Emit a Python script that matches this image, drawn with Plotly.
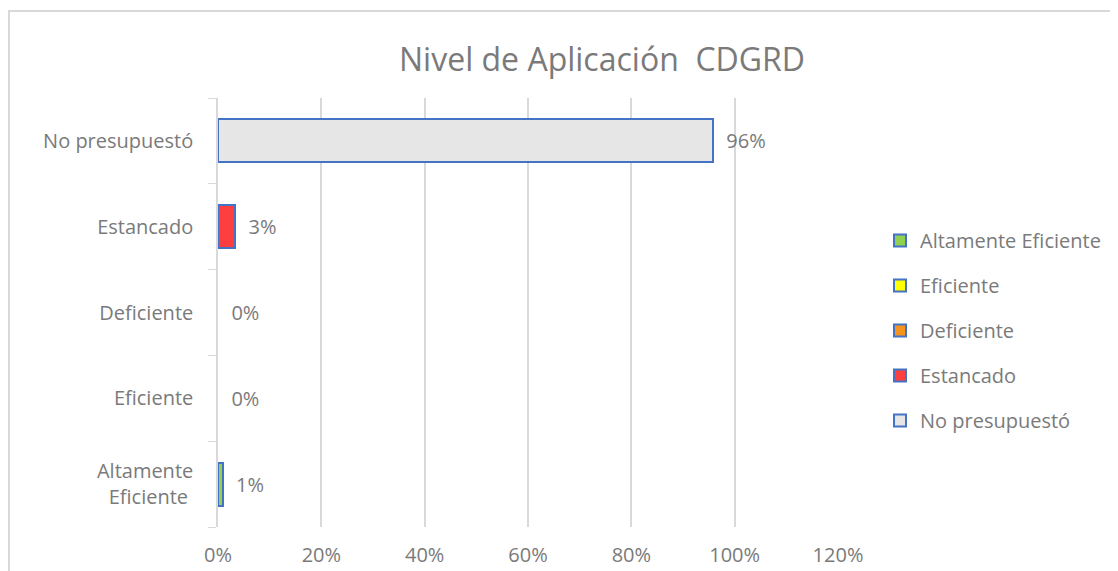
import plotly.graph_objects as go

categorias = ["Altamente Eficiente", "Eficiente", "Deficiente", "Estancado", "No presupuestó"]
etiquetas = ["Altamente<br>Eficiente\u00a0", "Eficiente", "Deficiente", "Estancado", "No presupuestó"]
series = ["Altamente Eficiente", "Eficiente", "Deficiente", "Estancado", "No presupuestó"]
valores = [0.009, 0.0, 0.0, 0.033, 0.958]
colores = ["#92D050", "#FFFF00", "#F7941D", "#FF3F3F", "#E7E6E6"]
ticks_x = [0, 0.2, 0.4, 0.6, 0.8, 1.0, 1.2]

GRIS = "#7A7A7A"
AZUL = "#4472C4"
FUENTE = "'Open Sans', Lato, sans-serif"

fig = go.Figure()
for i, nombre in enumerate(series):
    # barras reales (las de valor 0 sin borde)
    fig.add_trace(
        go.Bar(
            name=nombre,
            orientation="h",
            y=[categorias[i]],
            x=[valores[i]],
            text=["\u00a0\u00a0" + f"{valores[i]:.0%}"],
            textposition="outside",
            textfont=dict(size=20, color=GRIS, family=FUENTE),
            cliponaxis=False,
            marker=dict(color=colores[i], line=dict(color=AZUL, width=2 if valores[i] > 0 else 0)),
            showlegend=False,
            legendgroup=nombre,
        )
    )
    # solo para la leyenda
    fig.add_trace(
        go.Bar(
            name=nombre,
            orientation="h",
            y=[None],
            x=[None],
            marker=dict(color=colores[i], line=dict(color=AZUL, width=2)),
            legendgroup=nombre,
            hoverinfo="skip",
        )
    )

# la página tiene 8px de margen, por eso los márgenes van corridos
fig.update_layout(
    width=1118,
    height=571,
    barmode="stack",
    bargap=0.5,
    paper_bgcolor="white",
    plot_bgcolor="white",
    font=dict(family=FUENTE, color=GRIS, size=20),
    margin=dict(l=210, r=288, t=90, b=52),
    title=dict(
        text="Nivel de Aplicación  CDGRD",
        x=(602 - 8) / 1118,
        xanchor="center",
        y=1 - 52 / 571,
        yanchor="middle",
        font=dict(size=32, color=GRIS, family=FUENTE),
    ),
    legend=dict(
        x=(880 - 218) / 620,
        y=(527 - 221) / 429,
        xanchor="left",
        yanchor="top",
        traceorder="grouped",
        tracegroupgap=16,
        font=dict(size=20, color=GRIS, family=FUENTE),
        itemwidth=30,
    ),
    showlegend=True,
    shapes=[
        dict(
            type="rect",
            xref="paper",
            yref="paper",
            x0=(9 - 218) / 620,
            x1=1.6,
            y0=-0.3,
            y1=(527 - 11) / 429,
            line=dict(color="#D9D9D9", width=2),
            fillcolor="rgba(0,0,0,0)",
            layer="below",
        )
    ],
)

fig.update_xaxes(
    range=[0, 1.2],
    tickvals=ticks_x,
    tickformat=".0%",
    showgrid=True,
    gridcolor="#D9D9D9",
    gridwidth=1.5,
    zeroline=False,
    showline=False,
    ticks="",
    ticklabelstandoff=14,
    tickfont=dict(size=20, color=GRIS, family=FUENTE),
)
fig.update_yaxes(
    categoryorder="array",
    categoryarray=categorias,
    tickvals=categorias,
    ticktext=etiquetas,
    showline=True,
    linecolor="#D9D9D9",
    linewidth=1.5,
    ticks="outside",
    tickson="boundaries",
    ticklen=8,
    tickcolor="#D9D9D9",
    showgrid=False,
    ticklabelstandoff=19,
    tickfont=dict(size=20, color=GRIS, family=FUENTE),
)

fig.write_html("out.html")
